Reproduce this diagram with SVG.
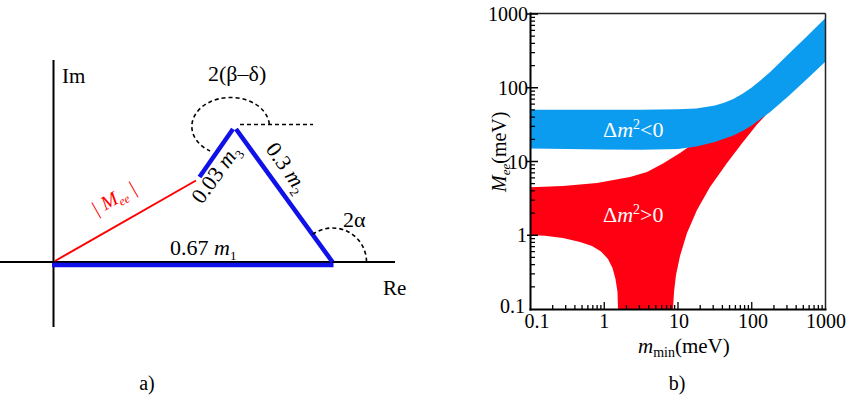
<svg xmlns="http://www.w3.org/2000/svg" width="847" height="400" viewBox="0 0 847 400">
<style>
text{font-family:"Liberation Serif","Times New Roman",serif;fill:#000}
.ax{stroke:#000;stroke-width:2;fill:none}
.blue{stroke:#1010e8;stroke-width:4.5;fill:none}
.dash{stroke:#000;stroke-width:1.6;fill:none;stroke-dasharray:4 3}
.it{font-style:italic}
.tick{stroke:#000;stroke-width:1.3;fill:none}
</style>
<rect width="847" height="400" fill="#fff"/>

<g id="panel-a">
  <g id="axes-a">
    <line class="ax" x1="53.5" y1="60" x2="53.5" y2="327"/>
    <line class="ax" x1="0" y1="262" x2="395" y2="262"/>
    <text x="62" y="83" font-size="21">Im</text>
    <text x="383" y="295" font-size="21">Re</text>
  </g>
  <g id="connectors">
    <line id="m1" class="blue" x1="52" y1="265" x2="333.5" y2="265" stroke-width="5"/>
    <line id="m2" class="blue" x1="236" y1="129" x2="332.5" y2="262"/>
    <line id="m3" class="blue" x1="199.5" y1="177" x2="233" y2="129"/>
    <line id="mee" x1="55" y1="261" x2="196" y2="180.5" stroke="#ff0000" stroke-width="2"/>
  </g>
  <g id="angles">
    <line class="dash" x1="240" y1="124.5" x2="313" y2="124.5"/>
    <path class="dash" d="M 269.3 124 A 38.8 29 0 1 0 210 151"/>
    <path class="dash" d="M 312.6 234.4 A 34 34 0 0 1 366.5 261"/>
    <text x="208" y="81" font-size="22">2(β–δ)</text>
    <text x="343" y="227" font-size="22">2α</text>
  </g>
  <g id="labels-a">
    <text x="170" y="255" font-size="22">0.67 <tspan class="it">m</tspan><tspan font-size="13" dy="5">1</tspan></text>
    <text transform="translate(202,205) rotate(-54)" font-size="22">0.03 <tspan class="it">m</tspan><tspan font-size="13" dy="5">3</tspan></text>
    <text transform="translate(265,149) rotate(55)" font-size="22">0.3 <tspan class="it">m</tspan><tspan font-size="13" dy="5">2</tspan></text>
    <text transform="translate(96,216) rotate(-29.5)" font-size="20" class="it" style="fill:#ff0000">| M<tspan font-size="12" dy="4">ee</tspan><tspan dy="-4"> |</tspan></text>
  </g>
  <text x="147" y="390" font-size="20" text-anchor="middle">a)</text>
</g>

<g id="panel-b">
  <g id="bands">
    <path id="normal" fill="#fe0011" d="M 530.5 187.3 L 563 186 L 597 183 L 630 177 L 647 172 L 663 163.5 L 680 153 L 690 146 L 705 138 L 730 128 L 760 114 L 770 108 L 765 116 L 757 124.5 L 743 142 L 727 163 L 710 187 L 697 210 L 687 233 L 680 256 L 676 275 L 674 292 L 673 309 L 618 309 L 617.5 292 L 615.5 279 L 612.5 268 L 608 259 L 601 251.5 L 592 246 L 580 242 L 563 238 L 545 235.8 L 530.5 235 Z"/>
    <path id="inverted" fill="#0b9bef" d="M 530.5 109.8 L 604.25 109.8 L 641.1 109.8 L 678 109.3 L 696.4 108.4 L 714.9 105.5 L 724.1 102.8 L 733.3 98.9 L 742.5 93.8 L 751.75 87.4 L 761 79.9 L 770.2 71.9 L 788.6 54.1 L 807 36.2 L 825.5 18 L 825.5 61.5 L 807 79 L 788.6 96 L 770.2 112 L 751.75 125.5 L 742.5 131 L 733.3 135.5 L 714.9 142 L 696.4 146.5 L 678 149 L 641.1 149.8 L 604.25 149.5 L 530.5 148.5 Z"/>
    <text x="603" y="137" font-size="22" style="fill:#fff">Δ<tspan class="it">m</tspan><tspan font-size="14" dy="-8">2</tspan><tspan dy="8">&lt;0</tspan></text>
    <text x="603" y="222" font-size="22" style="fill:#fff">Δ<tspan class="it">m</tspan><tspan font-size="14" dy="-8">2</tspan><tspan dy="8">&gt;0</tspan></text>
  </g>
  <g id="frame">
    <line x1="530.5" y1="13.5" x2="825.5" y2="13.5" stroke="#222" stroke-width="1.5"/>
    <line x1="825.5" y1="13.5" x2="825.5" y2="309.5" stroke="#222" stroke-width="1.5"/>
    <line class="ax" x1="530.5" y1="12.5" x2="530.5" y2="310.5"/>
    <line class="ax" x1="529.5" y1="309.5" x2="826.5" y2="309.5"/>
    <path class="tick" d="M527 14H538 M527 87.75H538 M527 161.5H538 M527 235.25H538
      M530.5 286.8H535 M530.5 273.81H535 M530.5 264.6H535 M530.5 257.45H535 M530.5 251.61H535 M530.5 246.67H535 M530.5 242.4H535 M530.5 238.62H535
      M530.5 213.05H535 M530.5 200.06H535 M530.5 190.85H535 M530.5 183.7H535 M530.5 177.86H535 M530.5 172.92H535 M530.5 168.65H535 M530.5 164.87H535
      M530.5 139.3H535 M530.5 126.31H535 M530.5 117.1H535 M530.5 109.95H535 M530.5 104.11H535 M530.5 99.17H535 M530.5 94.9H535 M530.5 91.12H535
      M530.5 65.55H535 M530.5 52.56H535 M530.5 43.35H535 M530.5 36.2H535 M530.5 30.36H535 M530.5 25.42H535 M530.5 21.15H535 M530.5 17.37H535"/>
    <path class="tick" d="M604.25 309.5V302 M678 309.5V302 M751.75 309.5V302
      M552.7 309.5V305 M565.69 309.5V305 M574.9 309.5V305 M582.05 309.5V305 M587.89 309.5V305 M592.83 309.5V305 M597.1 309.5V305 M600.88 309.5V305
      M626.45 309.5V305 M639.44 309.5V305 M648.65 309.5V305 M655.8 309.5V305 M661.64 309.5V305 M666.58 309.5V305 M670.85 309.5V305 M674.63 309.5V305
      M700.2 309.5V305 M713.19 309.5V305 M722.4 309.5V305 M729.55 309.5V305 M735.39 309.5V305 M740.33 309.5V305 M744.6 309.5V305 M748.38 309.5V305
      M773.95 309.5V305 M786.94 309.5V305 M796.15 309.5V305 M803.3 309.5V305 M809.14 309.5V305 M814.08 309.5V305 M818.35 309.5V305 M822.13 309.5V305"/>
  </g>
  <g id="ylabels">
    <text x="528" y="21" font-size="20" text-anchor="end">1000</text>
    <text x="528" y="95" font-size="20" text-anchor="end">100</text>
    <text x="528" y="168.5" font-size="20" text-anchor="end">10</text>
    <text x="527" y="242" font-size="20" text-anchor="end">1</text>
    <text x="525" y="313" font-size="20" text-anchor="end">0.1</text>
  </g>
  <g id="xlabels">
    <text x="537" y="328" font-size="20" text-anchor="middle">0.1</text>
    <text x="604.25" y="328" font-size="20" text-anchor="middle">1</text>
    <text x="679" y="328" font-size="20" text-anchor="middle">10</text>
    <text x="753" y="328" font-size="20" text-anchor="middle">100</text>
    <text x="826" y="328" font-size="20" text-anchor="middle">1000</text>
  </g>
  <text x="638" y="353" font-size="21"><tspan class="it">m</tspan><tspan font-size="14" dy="4">min</tspan><tspan dy="-4">(meV)</tspan></text>
  <text transform="translate(506,192) rotate(-90)" font-size="20"><tspan class="it">M</tspan><tspan class="it" font-size="13" dy="4">ee</tspan><tspan dy="-4">(meV)</tspan></text>
  <text x="677" y="390" font-size="20" text-anchor="middle">b)</text>
</g>
</svg>
